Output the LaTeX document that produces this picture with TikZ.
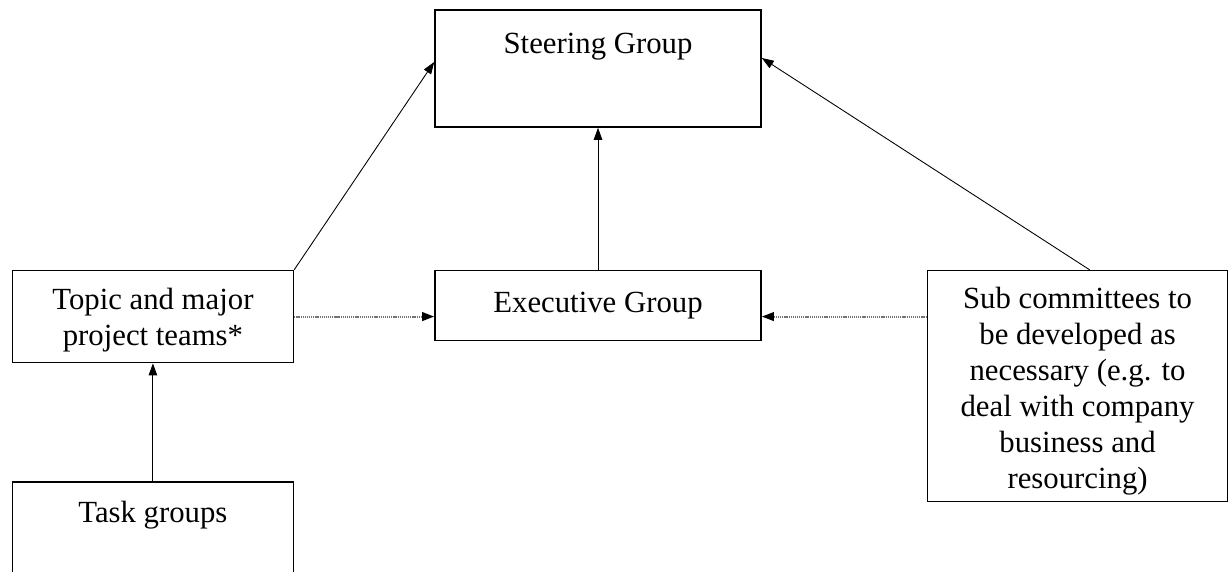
\documentclass[tikz,border=0pt]{standalone}
\usepackage{fontspec}
\setmainfont{Liberation Serif}
\usetikzlibrary{arrows.meta, positioning}
\tikzset{
    group/.style={draw, line width=0.9pt, align=center, inner sep=0.1cm,
      font=\fontsize{17.5}{20.5}\selectfont},
    link/.style={-{Triangle[length=0.24cm, width=0.17cm]}, line width=0.5pt},
    loose link/.style={-{Triangle[length=0.24cm, width=0.17cm, black]}, draw=black!55,
      line width=1.2pt, dash pattern=on 0.7pt off 0.5pt},
}

\begin{document}
\begin{tikzpicture}
    \useasboundingbox (0,0) rectangle (24.56,11.44);

    \node[group, minimum width=6.52cm, minimum height=2.34cm, text height=0.78cm, text depth=1.36cm] (steer) at (11.96,10.07) {Steering Group};
    \node[group, minimum width=6.52cm, minimum height=1.4cm, below=2.84cm of steer] (exec) {Executive Group};
    \node[group, minimum width=5.62cm, minimum height=1.84cm, left=2.8cm of exec.north west, anchor=north east] (topic) {\rule{0pt}{0.55cm}Topic and major\\project teams*};
    \node[group, minimum width=5.62cm, minimum height=2.22cm, text height=0.7cm, text depth=1.32cm, below=2.36cm of topic] (task) {Task groups};
    \node[group, minimum width=6.0cm, minimum height=4.62cm, right=3.3cm of exec.north east, anchor=north west] (sub) {\rule{0pt}{0.62cm}Sub committees to\\be developed as\\necessary (e.g. to\\deal with company\\business and\\resourcing)};

    \draw[link] (exec) -- (steer);
    \draw[link] (topic.north east) -- ([yshift=0.13cm]steer.west);
    \draw[link] ([xshift=0.24cm]sub.north) -- ([yshift=0.21cm]steer.east);
    \draw[link] (task) -- (topic);
    \draw[loose link] (topic.east) -- (topic.east -| exec.west);
    \draw[loose link] (topic.east -| sub.west) -- (topic.east -| exec.east);
\end{tikzpicture}
\end{document}
